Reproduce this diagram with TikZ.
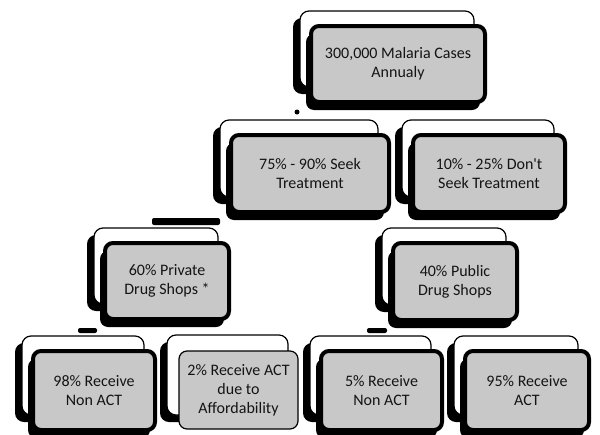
\documentclass[tikz,border=0pt]{standalone}
\usepackage{fontspec}
\setmainfont{Carlito}
\usetikzlibrary{shadows}
\definecolor{boxgray}{RGB}{200,200,200}
\definecolor{textgray}{RGB}{20,20,20}

\begin{document}
\begin{tikzpicture}[x=1pt, y=-1pt,
    back/.style={draw=black, line width=1.2pt, fill=white, rounded corners=9pt,
      drop shadow={shadow xshift=-7pt, shadow yshift=-7pt, fill=black, opacity=1}},
    flatbox/.style={draw=black, line width=1.2pt, fill=boxgray, rounded corners=8pt,
      text=textgray, align=center, font=\fontsize{16}{19}\selectfont},
    front/.style={flatbox, line width=4pt,
      drop shadow={shadow xshift=-5pt, shadow yshift=-8pt, fill=black, opacity=1}},
    stub/.style={fill=black, rounded corners=2pt}]
    \useasboundingbox (0,0) rectangle (600,434);

    % leftover bits of the links
    \fill[stub] (152,218) rectangle (220,225);
    \fill[stub] (78,328) rectangle (97,333);
    \fill[stub] (367,328) rectangle (387,333);
    \fill[stub] (297,112) circle (2.5);

    % top
    \node[back, minimum width=174pt, minimum height=76pt] (cases-b) at (387,49) {};
    \node[front, minimum width=174pt, minimum height=76pt] (cases) at (398,64)
        {300,000 Malaria Cases\\Annualy};

    % second row
    \node[back, minimum width=158pt, minimum height=77pt] (seek-b) at (299,158.5) {};
    \node[front, minimum width=158pt, minimum height=77pt] (seek) at (310,173.5)
        {75\% - 90\% Seek\\Treatment};
    \node[back, minimum width=152pt, minimum height=77pt] (noseek-b) at (478,158.5) {};
    \node[front, minimum width=152pt, minimum height=77pt] (noseek) at (489,173.5)
        {10\% - 25\% Don\textquotesingle t\\Seek Treatment};

    % third row
    \node[back, minimum width=124pt, minimum height=76pt] (private-b) at (156,266) {};
    \node[front, minimum width=124pt, minimum height=76pt] (private) at (167,281)
        {60\% Private\\Drug Shops *};
    \node[back, minimum width=124pt, minimum height=77pt] (public-b) at (444,266.5) {};
    \node[front, minimum width=124pt, minimum height=77pt] (public) at (455,281.5)
        {40\% Public\\Drug Shops};

    % bottom row
    \node[back, minimum width=122pt, minimum height=79pt] (privnon-b) at (83,375.5) {};
    \node[front, minimum width=122pt, minimum height=79pt] (privnon) at (94,390.5)
        {98\% Receive\\Non ACT};
    \node[back, minimum width=121pt, minimum height=80pt] (privact-b) at (227.5,375) {};
    \node[flatbox, minimum width=119pt, minimum height=78pt] (privact) at (238.5,390)
        {2\% Receive ACT\\due to\\Affordability};
    \node[back, minimum width=121pt, minimum height=79pt] (pubnon-b) at (370.5,375.5) {};
    \node[front, minimum width=121pt, minimum height=79pt] (pubnon) at (381.5,390.5)
        {5\% Receive\\Non ACT};
    \node[back, minimum width=124pt, minimum height=79pt] (pubact-b) at (516,375.5) {};
    \node[front, minimum width=124pt, minimum height=79pt] (pubact) at (527,390.5)
        {95\% Receive\\ACT};
\end{tikzpicture}
\end{document}
